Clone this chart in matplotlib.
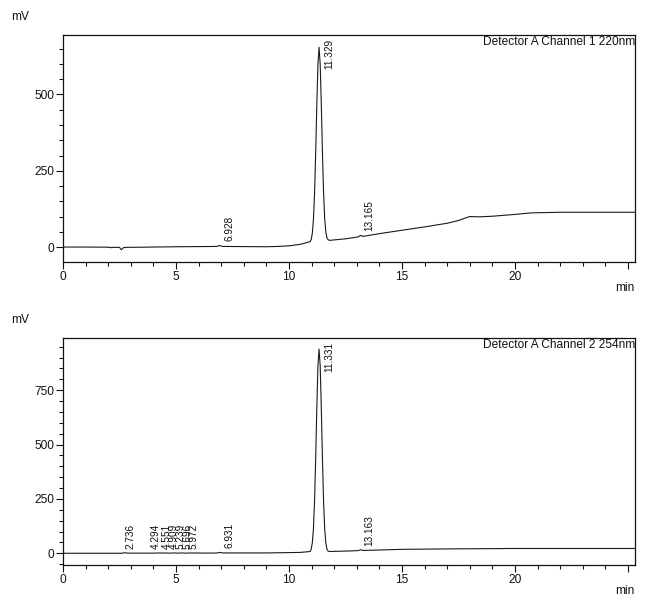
import matplotlib
matplotlib.use("Agg")
import matplotlib.pyplot as plt
from matplotlib.ticker import MultipleLocator
from matplotlib.transforms import offset_copy
import numpy as np

plt.rcParams['font.family'] = ['Liberation Sans', 'DejaVu Sans']

# ---------------- data ----------------
ch1_time = [0.0, 1.0, 2.0, 2.15, 2.25, 2.5, 2.58, 2.68, 2.8, 3.5, 5.0, 6.0, 6.8, 6.93, 7.05,
            8.0, 9.0, 9.5, 10.0, 10.5,
            10.93, 10.98, 11.03, 11.08, 11.13, 11.18, 11.23, 11.28, 11.33, 11.38, 11.43,
            11.48, 11.53, 11.58, 11.63, 11.68, 11.73, 11.8,
            12.5, 13.05, 13.165, 13.28, 14.0, 15.0, 16.0, 17.0, 17.5, 17.8, 18.0, 18.4,
            19.0, 20.0, 20.7, 22.0, 25.3]
ch1_mv = [0, 0, -0.5, -2, -1, -1, -9, -2, -1, -0.5, 1, 1.5, 2, 5, 2,
          1.5, 1, 2, 4, 9,
          17.5, 24, 44, 88, 175, 307, 464, 598, 655, 599, 466,
          309, 178, 92, 49, 30, 24, 22,
          27, 33, 38, 35, 44, 55, 66, 78, 87, 95, 100, 99,
          101, 107, 112, 114, 114]

ch2_time = [0.0, 2.6, 2.736, 2.85, 4.0, 4.294, 4.4, 4.551, 4.7, 4.909, 5.05, 5.239, 5.4,
            5.696, 5.85, 5.972, 6.1, 6.8, 6.931, 7.05, 8.0, 9.0, 10.0, 10.5,
            10.93, 10.98, 11.03, 11.08, 11.13, 11.18, 11.23, 11.28, 11.33, 11.38, 11.43,
            11.48, 11.53, 11.58, 11.63, 11.68, 11.73, 11.8,
            12.5, 13.05, 13.163, 13.28, 14.0, 15.0, 17.0, 20.0, 25.3]
ch2_mv = [0, 0, 2.5, 0.5, 0.5, 1.5, 0.5, 1.5, 0.5, 1.5, 0.5, 1.5, 0.5,
          1.5, 0.8, 1.5, 0.8, 1, 4, 1.5, 1.5, 1.5, 3, 4,
          8, 18, 46, 111, 238, 433, 665, 862, 939, 862, 666,
          434, 239, 112, 47, 19, 10, 8,
          10, 12, 16, 13, 15, 18, 20, 22, 22]

ch1_peaks = [6.928, 11.329, 13.165]
ch1_labels = ["6.928", "11.329", "13.165"]
ch2_peaks = [2.736, 4.294, 4.551, 4.909, 5.239, 5.696, 5.972, 6.931, 11.331, 13.163]
ch2_labels = ["2.736", "4.294", "4.551", "4.909", "5.239", "5.696", "5.972", "6.931",
              "11.331", "13.163"]

ch1_title = "Detector A Channel 1 220nm"
ch2_title = "Detector A Channel 2 254nm"

# label horizontal offsets (pixels, centre relative to peak) - style only
ch1_dx = [10, 10, 9]
ch2_dx = [6, -4, 1, 0, -1, -4, -4.5, 10, 10, 9]

# ---------------- figure ----------------
W, H = 660, 604
fig = plt.figure(figsize=(W / 100, H / 100), dpi=100)
INK = '#111111'

def px2pt(p):
    return p * 72.0 / 100.0

panels = [
    dict(t=ch1_time, v=ch1_mv, peaks=ch1_peaks, labels=ch1_labels, dx=ch1_dx,
         title=ch1_title, rect=[63 / W, 1 - 262 / H, 572 / W, 227 / H],
         ylim=(-49, 695), yt=[0, 250, 500], mv_y=17, min_y=288),
    dict(t=ch2_time, v=ch2_mv, peaks=ch2_peaks, labels=ch2_labels, dx=ch2_dx,
         title=ch2_title, rect=[63 / W, 1 - 565 / H, 572 / W, 227 / H],
         ylim=(-54, 990), yt=[0, 250, 500, 750], mv_y=320, min_y=591),
]

for p in panels:
    ax = fig.add_axes(p['rect'])
    ax.plot(p['t'], p['v'], color='#1a1a1a', lw=0.8)
    ax.set_xlim(0, 25.31)
    ax.set_ylim(*p['ylim'])
    ax.set_xticks([0, 5, 10, 15, 20, 25])
    ax.set_xticklabels(['0', '5', '10', '15', '20', ''])
    ax.xaxis.set_minor_locator(MultipleLocator(1))
    ax.set_yticks(p['yt'])
    ax.yaxis.set_minor_locator(MultipleLocator(50))
    ax.tick_params(axis='both', which='major', direction='out', length=5, width=0.8,
                   labelsize=8.6, pad=1.5, color=INK, labelcolor=INK)
    ax.tick_params(axis='both', which='minor', direction='out', length=3, width=0.8,
                   color=INK)
    for s in ax.spines.values():
        s.set_linewidth(0.9)
        s.set_color(INK)

    ymax = p['ylim'][1]
    for rt, lab, dx in zip(p['peaks'], p['labels'], p['dx']):
        val = float(np.interp(rt, p['t'], p['v']))
        if val > 0.5 * ymax:
            tr = offset_copy(ax.transData, fig=fig, x=px2pt(dx), y=0, units='points')
            ax.text(rt, ymax - (ymax - p['ylim'][0]) * 0.015, lab, rotation=90,
                    ha='center', va='top', fontsize=7.2,
                    transform=tr, color=INK)
        else:
            tr = offset_copy(ax.transData, fig=fig, x=px2pt(dx), y=3, units='points')
            ax.text(rt, val, lab, rotation=90, ha='center', va='bottom', fontsize=7.2,
                    transform=tr, color=INK)

    ax.text(1.0, 0.995, p['title'], transform=ax.transAxes, ha='right', va='top',
            fontsize=8.6, color=INK)
    fig.text(20 / W, 1 - p['mv_y'] / H, 'mV', ha='center', va='center', fontsize=8.6,
             color=INK)
    fig.text(625 / W, 1 - p['min_y'] / H, 'min', ha='center', va='center', fontsize=8.6,
             color=INK)

fig.savefig('out.png', dpi=100)
